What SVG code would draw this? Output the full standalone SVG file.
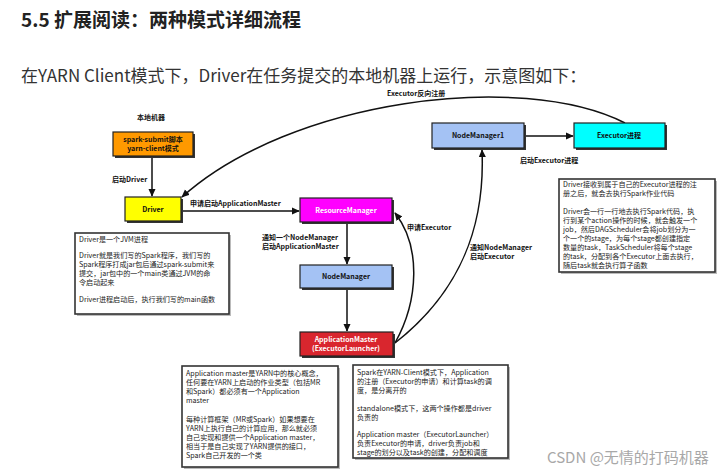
<svg xmlns="http://www.w3.org/2000/svg" width="726" height="473" viewBox="0 0 726 473">
<defs>
<style>
.cn{font-family:"Noto Sans CJK SC","Liberation Sans",sans-serif}
.title{font-size:19px;font-weight:bold;fill:#222}
.sub{font-size:17px;fill:#333}
.lbl{font-size:7px;font-weight:bold;fill:#111}
.nl{font-size:7px;font-weight:bold;text-anchor:middle}
.note{font-size:7.1px;fill:#222}
.shadow{fill:#333}
.box{stroke:#222;stroke-width:1.2}
.nbox{fill:#fff;stroke:#333;stroke-width:1.6}
.nshadow{fill:#bbb}
.conn{fill:none;stroke:#111;stroke-width:1.5}
</style>
<marker id="ah" viewBox="0 0 10 10" refX="9" refY="5" markerWidth="8" markerHeight="8" orient="auto" markerUnits="userSpaceOnUse">
<path d="M0,0.5 L10,5 L0,9.5 z" fill="#111"/>
</marker>
</defs>
<rect width="726" height="473" fill="#fff"/>

<text class="cn title" x="21" y="27">5.5 扩展阅读：两种模式详细流程</text>
<text class="cn sub" x="21" y="82">在YARN Client模式下，Driver在任务提交的本地机器上运行，示意图如下：</text>

<g id="connectors">
<line class="conn" x1="152" y1="157" x2="152" y2="196" marker-end="url(#ah)"/>
<line class="conn" x1="182" y1="211" x2="299" y2="211" marker-end="url(#ah)"/>
<line class="conn" x1="347" y1="223" x2="347" y2="264" marker-end="url(#ah)"/>
<line class="conn" x1="347" y1="290" x2="347" y2="331" marker-end="url(#ah)"/>
<line class="conn" x1="526" y1="136" x2="573" y2="136" marker-end="url(#ah)"/>
<path class="conn" d="M395,343 C419,300 421,246 395,213" marker-end="url(#ah)"/>
<path class="conn" d="M395,343 C450,300 486,240 482,150" marker-end="url(#ah)"/>
<path class="conn" d="M625,123 C520,70 290,100 182,197" marker-end="url(#ah)"/>
<text class="cn lbl" x="112" y="182">启动Driver</text>
<text class="cn lbl" x="190" y="206">申请启动ApplicationMaster</text>
<text class="cn lbl" x="262" y="240">通知一个NodeManager</text>
<text class="cn lbl" x="262" y="249">启动ApplicationMaster</text>
<text class="cn lbl" x="407" y="230">申请Executor</text>
<text class="cn lbl" x="470" y="250">通知NodeManager</text>
<text class="cn lbl" x="470" y="259">启动Executor</text>
<text class="cn lbl" x="520" y="163">启动Executor进程</text>
<text class="cn lbl" x="387" y="96">Executor反向注册</text>
</g>

<g id="local-machine">
<text class="cn nl" x="151" y="120" fill="#111">本地机器</text>
<rect class="shadow" x="115" y="134" width="80" height="24"/>
<rect class="box" x="113" y="132" width="80" height="24" fill="#FF9900"/>
<text class="cn nl" x="153" y="142" fill="#111">spark-submit脚本</text>
<text class="cn nl" x="153" y="151" fill="#111">yarn-client模式</text>
</g>

<g id="driver">
<rect class="shadow" x="127" y="199" width="56" height="24"/>
<rect class="box" x="125" y="197" width="56" height="24" fill="#FFFF00"/>
<text class="cn nl" x="153" y="212" fill="#111">Driver</text>
</g>

<g id="resource-manager">
<rect class="shadow" x="302" y="200" width="92" height="24"/>
<rect class="box" x="300" y="198" width="92" height="24" fill="#FF00FF"/>
<text class="cn nl" x="346" y="213" fill="#fff">ResourceManager</text>
</g>

<g id="node-manager">
<rect class="shadow" x="302" y="267" width="92" height="23"/>
<rect class="box" x="300" y="265" width="92" height="23" fill="#A4C2F4"/>
<text class="cn nl" x="346" y="279" fill="#111">NodeManager</text>
</g>

<g id="application-master">
<rect class="shadow" x="302" y="334" width="93" height="24"/>
<rect class="box" x="300" y="332" width="93" height="24" fill="#D9262E"/>
<text class="cn nl" x="346" y="342" fill="#fff">ApplicationMaster</text>
<text class="cn nl" x="346" y="351" fill="#fff">(ExecutorLauncher)</text>
</g>

<g id="node-manager1">
<rect class="shadow" x="434" y="125" width="92" height="25"/>
<rect class="box" x="432" y="123" width="92" height="25" fill="#A4C2F4"/>
<text class="cn nl" x="478" y="138" fill="#111">NodeManager1</text>
</g>

<g id="executor">
<rect class="shadow" x="576" y="125" width="91" height="25"/>
<rect class="box" x="574" y="123" width="91" height="25" fill="#00FFFF"/>
<text class="cn nl" x="619" y="138" fill="#111">Executor进程</text>
</g>

<g id="driver-note">
<rect class="nshadow" x="77" y="235" width="154" height="81"/>
<rect class="nbox" x="75" y="233" width="154" height="81"/>
<text class="cn note" x="79" y="242">Driver是一个JVM进程</text>
<text class="cn note" x="79" y="258">Driver就是我们写的Spark程序，我们写的</text>
<text class="cn note" x="79" y="267">Spark程序打成jar包后通过spark-submit来</text>
<text class="cn note" x="79" y="276">提交，jar包中的一个main类通过JVM的命</text>
<text class="cn note" x="79" y="285">令启动起来</text>
<text class="cn note" x="79" y="302">Driver进程启动后，执行我们写的main函数</text>
</g>

<g id="executor-note">
<rect class="nshadow" x="561" y="181" width="156" height="93"/>
<rect class="nbox" x="559" y="179" width="156" height="93"/>
<text class="cn note" x="563" y="187">Driver接收到属于自己的Executor进程的注</text>
<text class="cn note" x="563" y="196">册之后，就会去执行Spark作业代码</text>
<text class="cn note" x="563" y="214">Driver会一行一行地去执行Spark代码，执</text>
<text class="cn note" x="563" y="223">行到某个action操作的时候，就会触发一个</text>
<text class="cn note" x="563" y="232">job，然后DAGScheduler会将job划分为一</text>
<text class="cn note" x="563" y="241">个一个的stage，为每个stage都创建指定</text>
<text class="cn note" x="563" y="250">数量的task，TaskScheduler将每个stage</text>
<text class="cn note" x="563" y="259">的task，分配到各个Executor上面去执行，</text>
<text class="cn note" x="563" y="268">随后task就会执行算子函数</text>
</g>

<g id="am-note">
<rect class="nshadow" x="184" y="368" width="156" height="101"/>
<rect class="nbox" x="182" y="366" width="156" height="101"/>
<text class="cn note" x="186" y="376">Application master是YARN中的核心概念，</text>
<text class="cn note" x="186" y="385">任何要在YARN上启动的作业类型（包括MR</text>
<text class="cn note" x="186" y="394">和Spark）都必须有一个Application</text>
<text class="cn note" x="186" y="403">master</text>
<text class="cn note" x="186" y="422">每种计算框架（MR或Spark）如果想要在</text>
<text class="cn note" x="186" y="431">YARN上执行自己的计算应用，那么就必须</text>
<text class="cn note" x="186" y="440">自己实现和提供一个Application master，</text>
<text class="cn note" x="186" y="449">相当于是自己实现了YARN提供的接口，</text>
<text class="cn note" x="186" y="458">Spark自己开发的一个类</text>
</g>

<g id="client-note">
<rect class="nshadow" x="355" y="367" width="155" height="93"/>
<rect class="nbox" x="353" y="365" width="155" height="93"/>
<text class="cn note" x="357" y="375">Spark在YARN-Client模式下，Application</text>
<text class="cn note" x="357" y="384">的注册（Executor的申请）和计算task的调</text>
<text class="cn note" x="357" y="393">度，是分离开的</text>
<text class="cn note" x="357" y="411">standalone模式下，这两个操作都是driver</text>
<text class="cn note" x="357" y="420">负责的</text>
<text class="cn note" x="357" y="437">Application master（ExecutorLauncher）</text>
<text class="cn note" x="357" y="446">负责Executor的申请，driver负责job和</text>
<text class="cn note" x="357" y="455">stage的划分以及task的创建，分配和调度</text>
</g>

<text class="cn" x="547" y="463" font-size="15" fill="#a8a8a8">CSDN @无情的打码机器</text>
</svg>
